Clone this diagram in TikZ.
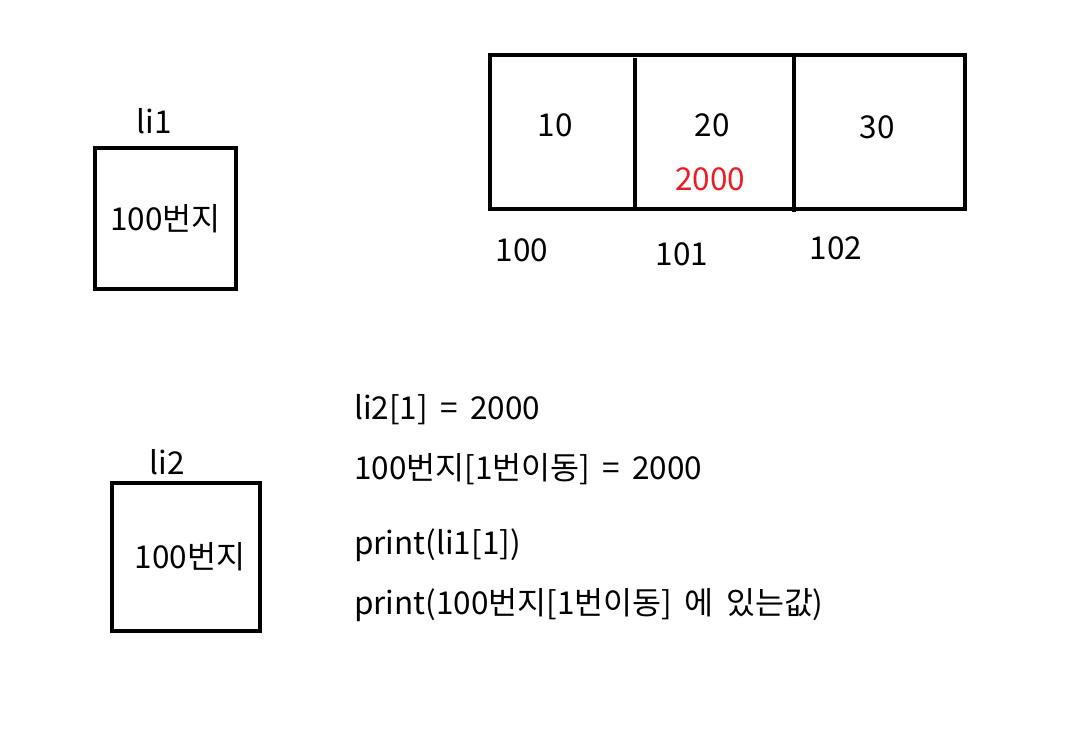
\documentclass[tikz,border=0pt]{standalone}
\usepackage{fontspec}
\setmainfont{Noto Sans CJK KR}
\begin{document}
\begin{tikzpicture}[x=1pt,y=-1pt,
  every node/.style={font=\fontsize{31.5}{36}\selectfont, inner sep=0pt},
  membox/.style={draw, line width=4pt, minimum width=#1, minimum height=#1},
  codeline/.style={anchor=west}]
\useasboundingbox (0,0) rectangle (1077,742);

% Variable boxes
\node (li1lbl) at (154,121) {li1};
\node[membox=141pt] (li1) at (165.5,218.5) {100번지};
\node (li2lbl) at (167,462) {li2};
\node[membox=148pt] (li2) at (186,557) {\hspace{8pt}100번지};

% List cells
\node[draw, line width=4pt, minimum width=475.5pt, minimum height=154pt] (arr) at (727.25,131.5) {};
\coordinate (d1top) at (635,58);
\coordinate (d1bot) at (635,208.5);
\coordinate (d2top) at (794,54.5);
\coordinate (d2bot) at (794,212);
\draw[line width=4pt] (d1top) -- (d1bot);
\draw[line width=4pt] (d2top) -- (d2bot);

% Values and addresses
\node (v10) at (555,125) {10};
\node (v20) at (712,125) {20};
\node (v30) at (877,127) {30};
\node[text={rgb,255:red,237;green,28;blue,36}] (v2000) at (710,179) {2000};
\node (a100) at (522,250) {100};
\node (a101) at (682,254) {101};
\node (a102) at (836,248) {102};

% Code lines
\node[codeline] (c1) at (354,410) {li2[1] \,=\, 2000};
\node[codeline] (c2) at (354,469) {100번지[1번이동] \,=\, 2000};
\node[codeline] (c3) at (354,545) {print(li1[1])};
\node[codeline] (c4) at (354,605) {print(100번지[1번이동] \,에\, 있는값)};

\end{tikzpicture}
\end{document}
